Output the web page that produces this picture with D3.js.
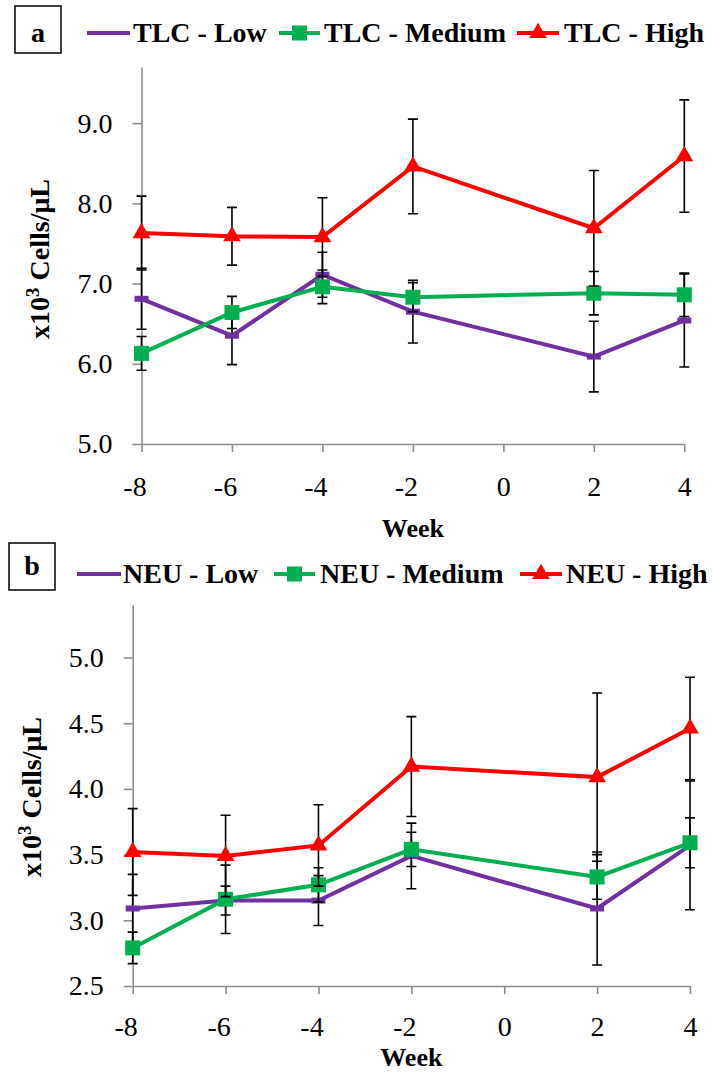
<!DOCTYPE html>
<html>
<head>
<meta charset="utf-8">
<script src="https://cdn.jsdelivr.net/npm/d3@7"></script>
<style>
  body { margin: 0; background: #fff; }
  svg text { fill: #000; }
</style>
</head>
<body>
<div id="chart"></div>
<script>
// data (weeks relative to calving)
var weeks = [-8, -6, -4, -2, 2, 4];
var xTicks = [-8, -6, -4, -2, 0, 2, 4];

// panel a : total leukocyte count
var tlcLow = [6.81, 6.35, 7.11, 6.65, 6.09, 6.54];
var tlcLowErr = [0.38, 0.36, 0.28, 0.39, 0.44, 0.58];
var tlcMed = [6.13, 6.64, 6.96, 6.83, 6.88, 6.86];
var tlcMedErr = [0.21, 0.20, 0.21, 0.18, 0.27, 0.27];
var tlcHigh = [7.63, 7.59, 7.58, 8.46, 7.69, 8.59];
var tlcHighErr = [0.46, 0.36, 0.49, 0.59, 0.72, 0.70];
var yTicksA = [5, 6, 7, 8, 9];

// panel b : neutrophils
var neuLow = [3.09, 3.15, 3.15, 3.49, 3.09, 3.57];
var neuLowErr = [0.26, 0.11, 0.19, 0.25, 0.43, 0.49];
var neuMed = [2.79, 3.16, 3.27, 3.54, 3.33, 3.59];
var neuMedErr = [0.12, 0.26, 0.13, 0.13, 0.17, 0.19];
var neuHigh = [3.52, 3.49, 3.57, 4.17, 4.09, 4.46];
var neuHighErr = [0.33, 0.31, 0.31, 0.38, 0.64, 0.39];
var yTicksB = [2.5, 3.0, 3.5, 4.0, 4.5, 5.0];

var colors = {low: "#7030a0", med: "#00b050", high: "#ff0000"};
var serif = "'Liberation Serif', 'DejaVu Serif', 'Noto Serif', 'Times New Roman', serif";

var svg = d3.select("#chart").append("svg")
    .attr("width", 713)
    .attr("height", 1072)
    .attr("font-family", serif);

function makeSeries(vals, errs) {
  return weeks.map(function(w, i) { return {week: w, v: vals[i], e: errs[i]}; });
}

function drawMarker(g, kind, cx, cy) {
  if (kind == "low") {
    g.append("rect")
      .attr("x", cx - 7).attr("y", cy - 3)
      .attr("width", 14).attr("height", 6)
      .attr("fill", colors.low);
  } else if (kind == "med") {
    g.append("rect")
      .attr("x", cx - 7.5).attr("y", cy - 7.5)
      .attr("width", 15).attr("height", 15)
      .attr("fill", colors.med);
  } else {
    g.append("path")
      .attr("d", d3.symbol(d3.symbolTriangle, 135)())
      .attr("transform", "translate(" + cx + "," + cy + ")")
      .attr("fill", colors.high);
  }
}

function drawPanel(p) {
  var g = svg.append("g");

  var x = d3.scaleLinear().domain([-8, 4]).range([p.left, p.right]);
  var y = d3.scaleLinear().domain(p.yDomain).range([p.bottom, p.top]);

  // y axis
  var yAxis = g.append("g")
      .attr("transform", "translate(" + p.left + ",0)")
      .call(d3.axisLeft(y).tickValues(p.yTicks).tickFormat(d3.format(".1f"))
        .tickSize(9).tickSizeOuter(0).tickPadding(20));

  // x axis (plain hyphen for the minus, like the original)
  var xAxis = g.append("g")
      .attr("transform", "translate(0," + p.bottom + ")")
      .call(d3.axisBottom(x).tickValues(xTicks).tickFormat(function(d) { return String(d); })
        .tickSize(8).tickSizeOuter(0));

  [yAxis, xAxis].forEach(function(a) {
    a.attr("font-family", serif);
    a.select(".domain").attr("stroke", "#8c8c8c").attr("stroke-width", 1.6);
    a.selectAll(".tick line").attr("stroke", "#8c8c8c").attr("stroke-width", 1.6);
    a.selectAll(".tick text").attr("font-size", 28).attr("font-family", serif).attr("fill", "#000");
  });
  xAxis.selectAll(".tick text")
      .attr("y", p.labelOffset).attr("dy", 0)
      .attr("dx", function(d) { return d < 0 ? -7 : 0; });

  // axis titles
  g.append("text")
      .attr("x", (p.left + p.right) / 2)
      .attr("y", p.bottom + p.weekOffset)
      .attr("text-anchor", "middle")
      .attr("font-family", serif)
      .attr("font-size", 26)
      .attr("font-weight", "bold")
      .text("Week");

  var yt = g.append("text")
      .attr("transform", "translate(" + p.titleX + "," + p.titleY + ") rotate(-90)")
      .attr("text-anchor", "middle")
      .attr("font-family", serif)
      .attr("font-size", 28)
      .attr("font-weight", "bold");
  yt.append("tspan").text("x10");
  yt.append("tspan").attr("font-size", 19).attr("dy", -10).text("3");
  yt.append("tspan").attr("dy", 10).text(" Cells/\u03bcL");

  // series: error bars, line, markers
  p.series.forEach(function(s) {
    var data = makeSeries(s.vals, s.errs);
    var sg = g.append("g");

    sg.selectAll(".err")
        .data(data)
      .enter().append("path")
        .attr("class", "err")
        .attr("fill", "none")
        .attr("stroke", "#000")
        .attr("stroke-width", 1.6)
        .attr("d", function(d) {
          var cx = x(d.week), t = y(d.v + d.e), b = y(d.v - d.e);
          return "M" + (cx - 5) + "," + t + "H" + (cx + 5) +
                 "M" + cx + "," + t + "V" + b +
                 "M" + (cx - 5) + "," + b + "H" + (cx + 5);
        });

    sg.append("path")
        .datum(data)
        .attr("fill", "none")
        .attr("stroke", colors[s.kind])
        .attr("stroke-width", 4)
        .attr("d", d3.line()
          .x(function(d) { return x(d.week); })
          .y(function(d) { return y(d.v); }));

    data.forEach(function(d) { drawMarker(sg, s.kind, x(d.week), y(d.v)); });
  });

  // panel letter box
  g.append("rect")
      .attr("x", p.box[0]).attr("y", p.box[1])
      .attr("width", 46).attr("height", 47)
      .attr("fill", "none")
      .attr("stroke", "#000")
      .attr("stroke-width", 1.5);
  g.append("text")
      .attr("x", p.box[0] + 23)
      .attr("y", p.box[1] + p.letterDy)
      .attr("text-anchor", "middle")
      .attr("font-family", serif)
      .attr("font-size", 28)
      .attr("font-weight", "bold")
      .text(p.letter);

  // legend
  p.legend.forEach(function(l, i) {
    var s = p.series[i];
    g.append("line")
        .attr("x1", l.x0).attr("x2", l.x1)
        .attr("y1", p.legendY).attr("y2", p.legendY)
        .attr("stroke", colors[s.kind])
        .attr("stroke-width", 4);
    if (s.kind != "low") drawMarker(g, s.kind, (l.x0 + l.x1) / 2, p.legendY);
    g.append("text")
        .attr("x", l.tx)
        .attr("y", p.legendBase)
        .attr("font-family", serif)
        .attr("font-size", 28)
        .attr("font-weight", "bold")
        .text(s.name);
  });
}

drawPanel({
  left: 141.5, right: 684.3, top: 67, bottom: 444,
  yDomain: [5, 9.7], yTicks: yTicksA,
  labelOffset: 52, weekOffset: 93, titleX: 49, titleY: 259,
  box: [15, 6], letter: "a", letterDy: 36,
  legendY: 33, legendBase: 42,
  series: [
    {kind: "low", name: "TLC - Low", vals: tlcLow, errs: tlcLowErr},
    {kind: "med", name: "TLC - Medium", vals: tlcMed, errs: tlcMedErr},
    {kind: "high", name: "TLC - High", vals: tlcHigh, errs: tlcHighErr}
  ],
  legend: [
    {x0: 87, x1: 130, tx: 133},
    {x0: 279, x1: 320, tx: 324},
    {x0: 517, x1: 559, tx: 564}
  ]
});

drawPanel({
  left: 132.7, right: 690, top: 605, bottom: 986,
  yDomain: [2.5, 5.4], yTicks: yTicksB,
  labelOffset: 50, weekOffset: 80, titleX: 41, titleY: 797,
  box: [9, 543], letter: "b", letterDy: 32,
  legendY: 574, legendBase: 583,
  series: [
    {kind: "low", name: "NEU - Low", vals: neuLow, errs: neuLowErr},
    {kind: "med", name: "NEU - Medium", vals: neuMed, errs: neuMedErr},
    {kind: "high", name: "NEU - High", vals: neuHigh, errs: neuHighErr}
  ],
  legend: [
    {x0: 77, x1: 121, tx: 123},
    {x0: 274, x1: 315, tx: 320},
    {x0: 520, x1: 562, tx: 566}
  ]
});
</script>
</body>
</html>
